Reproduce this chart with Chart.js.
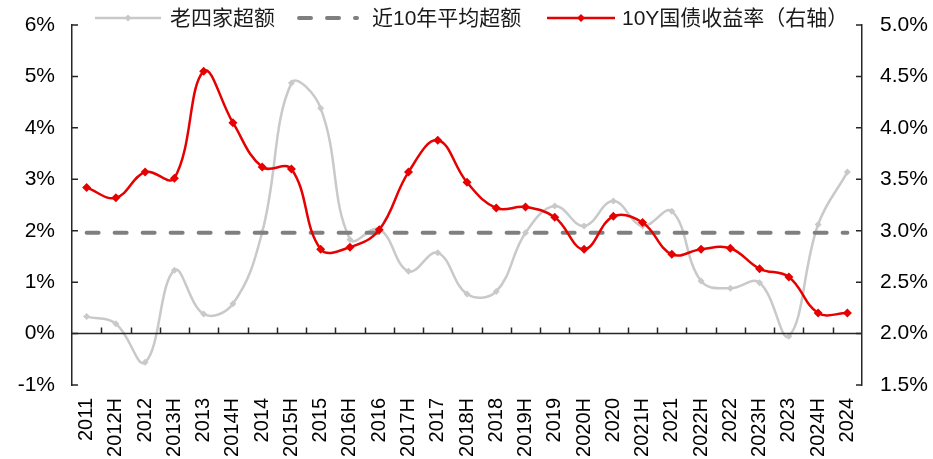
<!DOCTYPE html>
<html>
<head>
<meta charset="utf-8">
<style>
  html, body { margin: 0; padding: 0; background: #fff; }
  #wrap { width: 933px; height: 459px; }
</style>
<script src="https://cdn.jsdelivr.net/npm/chart.js@4/dist/chart.umd.min.js"></script>
</head>
<body>
<div id="wrap"><canvas id="c" width="933" height="459"></canvas></div>
<script>
// Period labels (H = half year)
const categories = ['2011','2012H','2012','2013H','2013','2014H','2014','2015H','2015','2016H','2016',
  '2017H','2017','2018H','2018','2019H','2019','2020H','2020','2021H','2021','2022H','2022',
  '2023H','2023','2024H','2024'];

// 老四家超额 (%, left axis)
const excessReturn = [0.33, 0.19, -0.56, 1.23, 0.38, 0.58, 1.97, 4.87, 4.38, 1.83, 2.03,
  1.21, 1.57, 0.77, 0.82, 1.96, 2.48, 2.09, 2.58, 2.09, 2.38, 1.02, 0.88,
  0.99, -0.05, 2.12, 3.14];

// 近10年平均超额 (%, left axis)
const avgExcess = 1.96;
const avgExcessSeries = categories.map(() => avgExcess);

// 10Y国债收益率 (%, right axis)
const yield10y = [3.42, 3.32, 3.57, 3.51, 4.55, 4.05, 3.62, 3.60, 2.82, 2.84, 3.01,
  3.57, 3.88, 3.47, 3.22, 3.23, 3.13, 2.82, 3.14, 3.08, 2.77, 2.82, 2.83,
  2.63, 2.55, 2.20, 2.20];

// Axis tick values
const leftTicks = [-1, 0, 1, 2, 3, 4, 5, 6];
const rightTicks = [1.5, 2.0, 2.5, 3.0, 3.5, 4.0, 4.5, 5.0];

const legendItems = ['老四家超额', '近10年平均超额', '10Y国债收益率（右轴）'];

const FONT = '"Liberation Sans", Arial, "Noto Sans CJK SC", sans-serif';
const RED = '#E60000';
const LIGHT = '#C9C9C9';
const DASH = '#7F7F7F';
const AXIS = '#262626';

// Draws the zero baseline, inward tick marks and the top legend
const decorations = {
  id: 'decorations',
  afterDatasetsDraw(chart) {
    const { ctx, chartArea: a, scales } = chart;
    const yL = scales.y, yR = scales.y2;
    ctx.save();
    ctx.strokeStyle = AXIS;
    ctx.lineWidth = 1.5;
    // zero baseline
    const y0 = yL.getPixelForValue(0);
    ctx.beginPath();
    ctx.moveTo(a.left, y0);
    ctx.lineTo(a.right, y0);
    ctx.stroke();
    // category boundary marks on the baseline
    const step = (a.right - a.left) / categories.length;
    ctx.beginPath();
    for (let i = 1; i < categories.length; i++) {
      const px = Math.round(a.left + i * step) + 0.5;
      ctx.moveTo(px, y0);
      ctx.lineTo(px, y0 - 6);
    }
    ctx.stroke();
    // inward tick marks on both value axes
    ctx.beginPath();
    leftTicks.forEach(v => {
      const py = yL.getPixelForValue(v);
      ctx.moveTo(a.left, py);
      ctx.lineTo(a.left + 6, py);
    });
    rightTicks.forEach(v => {
      const py = yR.getPixelForValue(v);
      ctx.moveTo(a.right, py);
      ctx.lineTo(a.right - 6, py);
    });
    ctx.stroke();
    ctx.restore();
  },
  afterDraw(chart) {
    const { ctx } = chart;
    const ly = 18;
    ctx.save();
    ctx.font = '21px ' + FONT;
    ctx.fillStyle = '#1a1a1a';
    ctx.textBaseline = 'middle';
    ctx.textAlign = 'left';
    // item 1: light grey line with marker
    ctx.strokeStyle = LIGHT;
    ctx.lineWidth = 2.5;
    ctx.beginPath(); ctx.moveTo(95, ly); ctx.lineTo(161, ly); ctx.stroke();
    diamond(ctx, 128, ly, 3.5, LIGHT);
    ctx.fillText(legendItems[0], 170, ly + 1);
    // item 2: dashed grey line
    ctx.strokeStyle = DASH;
    ctx.lineWidth = 4;
    ctx.lineCap = 'round';
    ctx.setLineDash([12, 16]);
    ctx.beginPath(); ctx.moveTo(299, ly); ctx.lineTo(357, ly); ctx.stroke();
    ctx.setLineDash([]);
    ctx.lineCap = 'butt';
    ctx.fillText(legendItems[1], 372, ly + 1);
    // item 3: red line with marker
    ctx.strokeStyle = RED;
    ctx.lineWidth = 2.5;
    ctx.beginPath(); ctx.moveTo(547, ly); ctx.lineTo(615, ly); ctx.stroke();
    diamond(ctx, 581, ly, 4, RED);
    ctx.fillText(legendItems[2], 622, ly + 1);
    ctx.restore();
  }
};

function diamond(ctx, cx, cy, r, color) {
  ctx.fillStyle = color;
  ctx.beginPath();
  ctx.moveTo(cx, cy - r); ctx.lineTo(cx + r, cy); ctx.lineTo(cx, cy + r); ctx.lineTo(cx - r, cy);
  ctx.closePath();
  ctx.fill();
  ctx.fillStyle = '#1a1a1a';
}

new Chart(document.getElementById('c'), {
  type: 'line',
  data: {
    labels: categories,
    datasets: [
      {
        label: legendItems[2],
        data: yield10y,
        yAxisID: 'y2',
        borderColor: RED,
        backgroundColor: RED,
        borderWidth: 2.5,
        pointStyle: 'rectRot',
        pointRadius: 4.5,
        pointBorderWidth: 0,
        tension: 0.4,
        order: 0
      },
      {
        label: legendItems[1],
        data: avgExcessSeries,
        yAxisID: 'y',
        borderColor: DASH,
        borderWidth: 4,
        borderDash: [12, 16],
        borderCapStyle: 'round',
        pointRadius: 0,
        tension: 0,
        order: 1
      },
      {
        label: legendItems[0],
        data: excessReturn,
        yAxisID: 'y',
        borderColor: LIGHT,
        backgroundColor: LIGHT,
        borderWidth: 2.5,
        pointStyle: 'rectRot',
        pointRadius: 3.5,
        pointBorderWidth: 0,
        tension: 0.4,
        order: 2
      }
    ]
  },
  options: {
    responsive: false,
    devicePixelRatio: 1,
    animation: false,
    layout: { padding: { top: 25, left: 0, right: 0, bottom: 0 } },
    plugins: { legend: { display: false }, tooltip: { enabled: false } },
    scales: {
      x: {
        type: 'category',
        offset: true,
        grid: { display: false, drawTicks: false },
        border: { display: false },
        ticks: {
          autoSkip: false, minRotation: 90, maxRotation: 90, padding: 13,
          color: '#000', font: { family: FONT, size: 20 }
        },
        afterFit(s) { s.height = 74; }
      },
      y: {
        position: 'left',
        min: -1, max: 6,
        // label gap comes from tickLength so the tick padding does not push the plot down
        grid: { display: false, drawTicks: true, tickLength: 17 },
        border: { display: true, color: AXIS, width: 1.5 },
        ticks: {
          stepSize: 1, padding: 0, color: '#000', font: { family: FONT, size: 21 },
          callback: v => v + '%'
        },
        afterFit(s) { s.width = 72; }
      },
      y2: {
        position: 'right',
        min: 1.5, max: 5,
        grid: { display: false, drawTicks: true, tickLength: 18 },
        border: { display: true, color: AXIS, width: 1.5 },
        ticks: {
          stepSize: 0.5, padding: 0, color: '#000', font: { family: FONT, size: 21 },
          callback: v => v.toFixed(1) + '%'
        },
        afterFit(s) { s.width = 71; }
      }
    }
  },
  plugins: [decorations]
});
</script>
</body>
</html>
